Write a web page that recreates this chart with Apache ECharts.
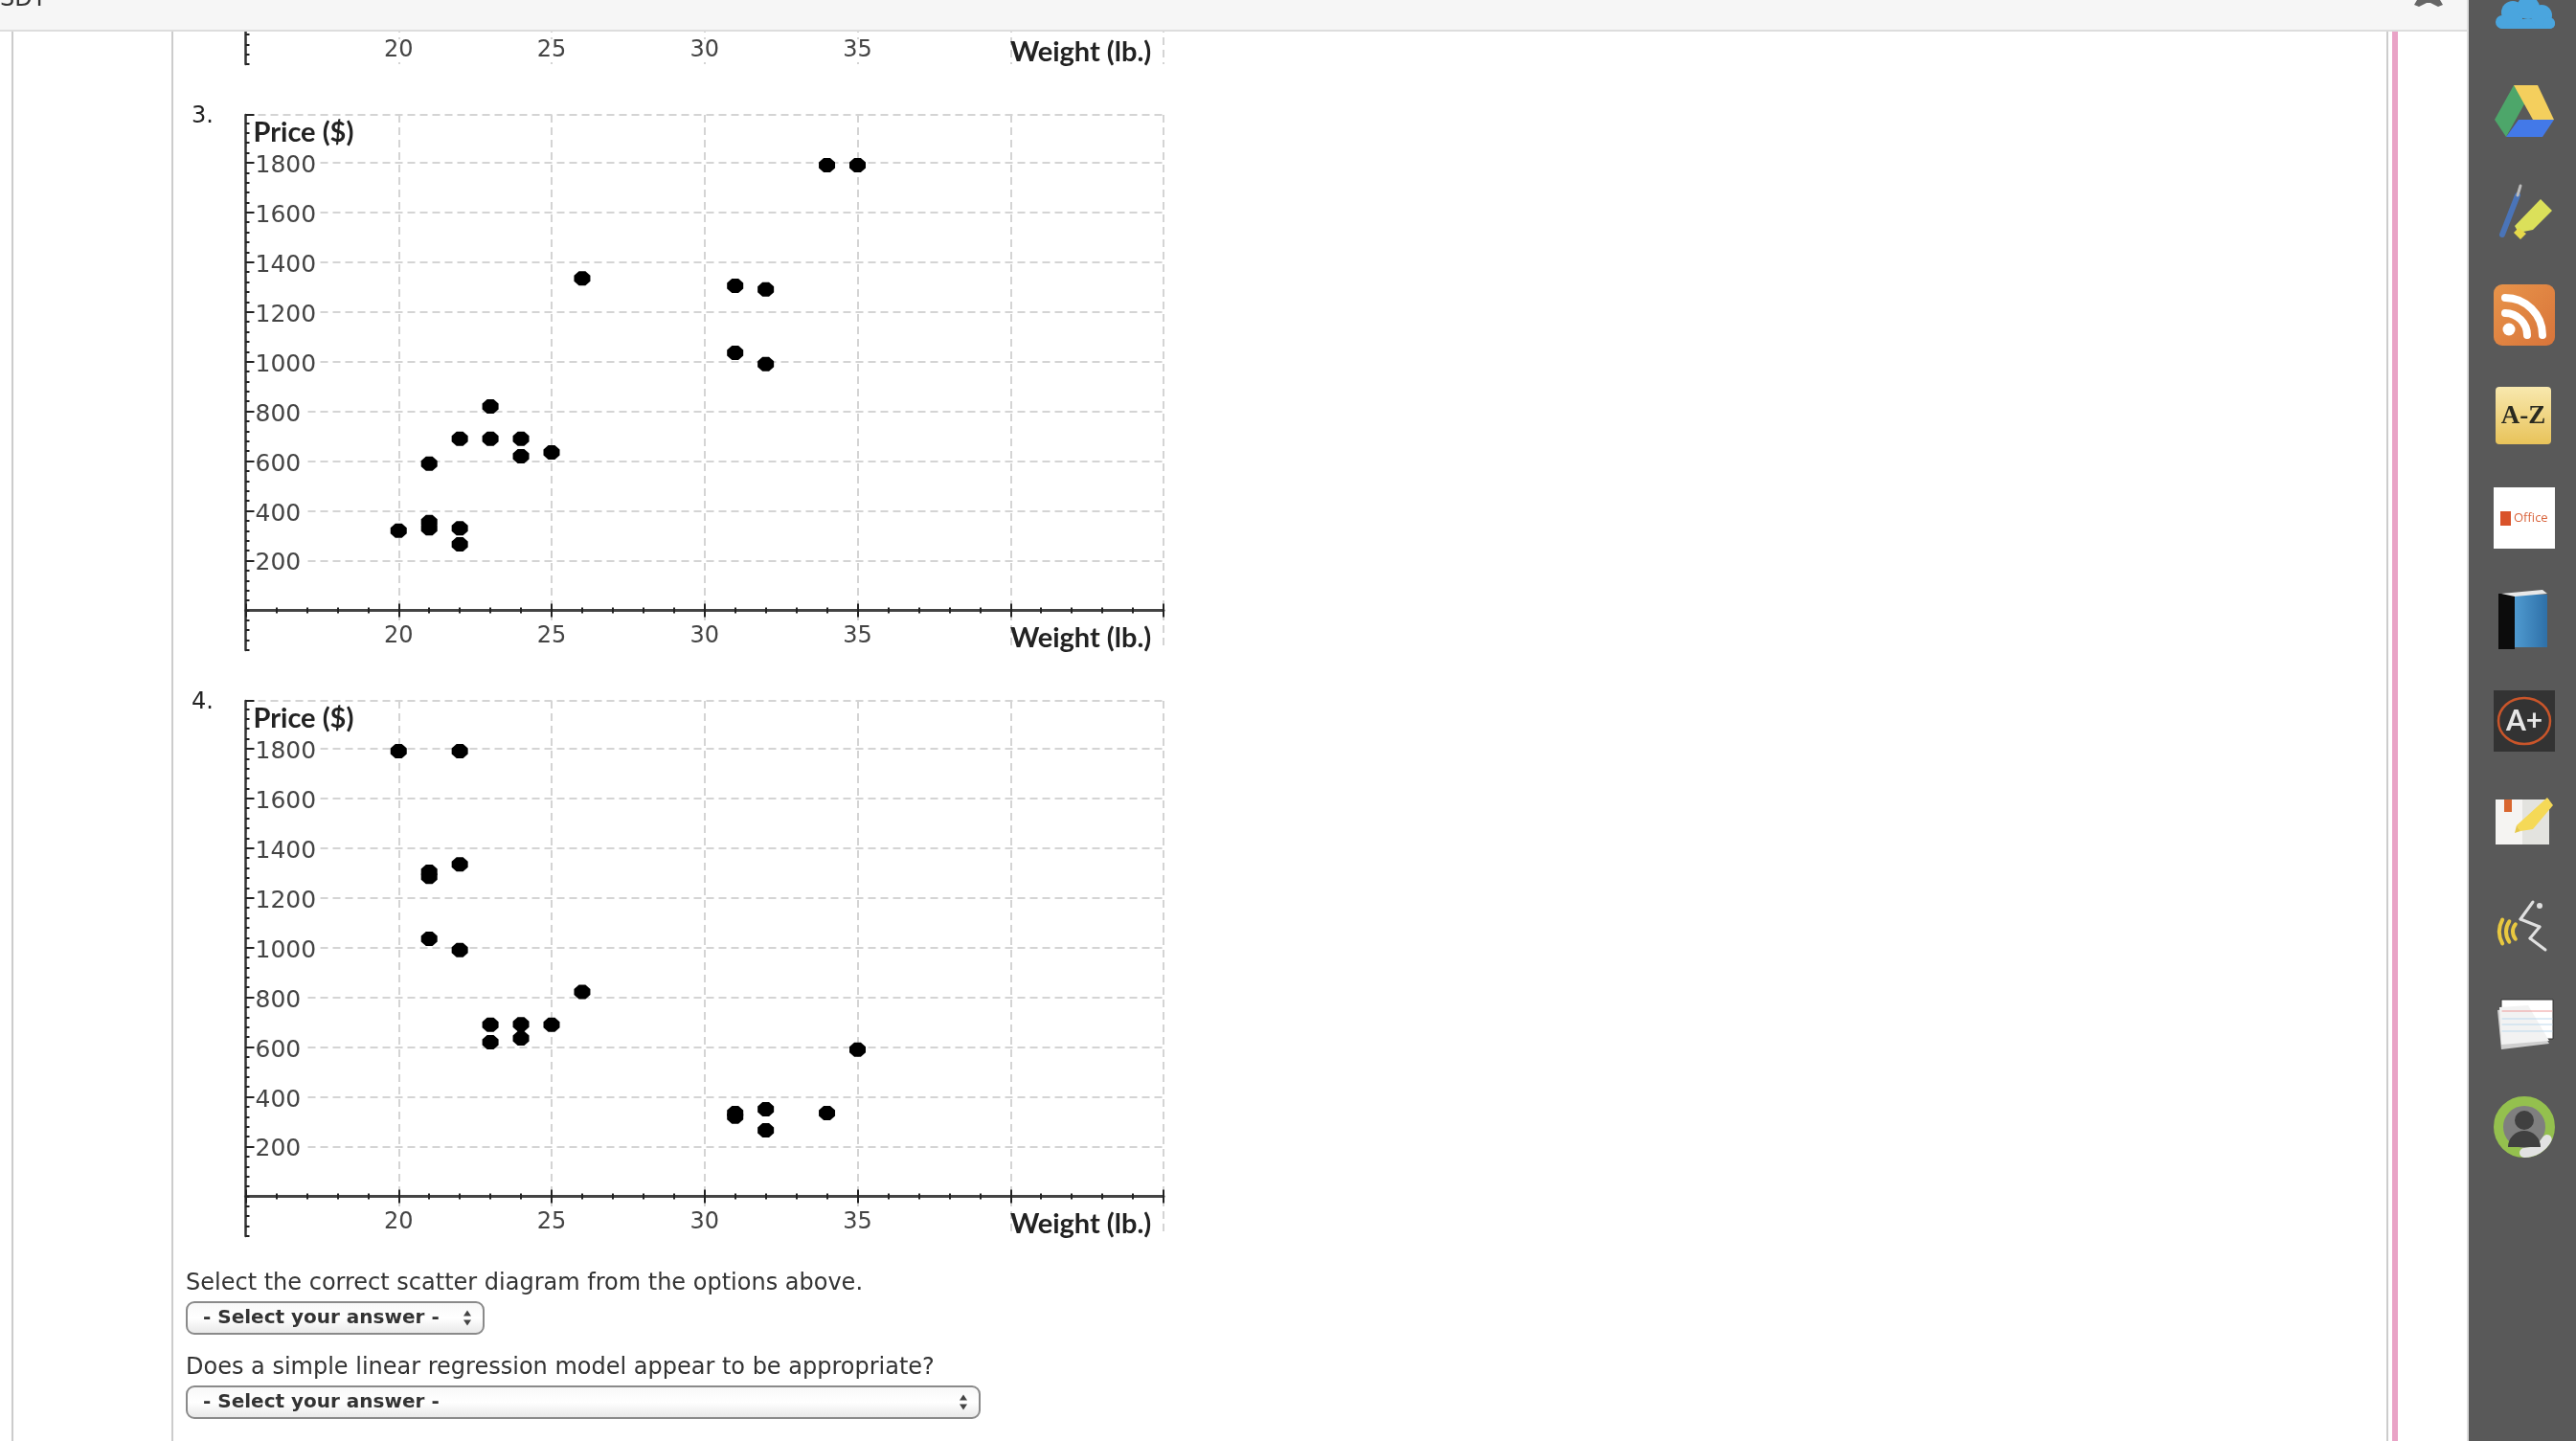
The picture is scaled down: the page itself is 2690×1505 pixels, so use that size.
<!DOCTYPE html>
<html>
<head>
<meta charset="utf-8">
<style>html,body{margin:0;padding:0;background:#fff}#c{width:2690px;height:1505px}</style>
<script src="https://cdn.jsdelivr.net/npm/echarts@6/dist/echarts.min.js"></script>
</head>
<body>
<div id="c"></div>
<script>
// ---- data ----
const xLabels = [20, 25, 30, 35];
const yLabels = [200, 400, 600, 800, 1000, 1200, 1400, 1600, 1800];
const yBottom = -160;
const xName = 'Weight (lb.)';
const yName = 'Price ($)';
const scatter3 = [[20,320],[21,355],[21,330],[21,590],[22,265],[22,330],[22,690],[23,690],[23,820],[24,620],[24,690],[25,635],[26,1335],[31,1035],[31,1305],[32,990],[32,1290],[34,1790],[35,1790]];
const scatter4 = [[20,1790],[21,1035],[21,1285],[21,1305],[22,990],[22,1335],[22,1790],[23,620],[23,690],[24,635],[24,692],[25,690],[26,822],[31,320],[31,335],[32,265],[32,350],[34,335],[35,590]];
const question1 = 'Select the correct scatter diagram from the options above.';
const question2 = 'Does a simple linear regression model appear to be appropriate?';
const selectText = '- Select your answer -';

// ---- layout: the tail of the previous chart, then charts 3 and 4 ----
const plotLeft = 256.5, plotWidth = 958.5;
const panels = [
  {top: 0, height: 67.1, yTop: 98, name: '', data: []},
  {top: 120, height: 559, yTop: 1992, name: yName, data: scatter3},
  {top: 732, height: 559, yTop: 1992, name: yName, data: scatter4}
];
const gridInk = '#d4d4d4';
const chartFont = 'Lato';
const dot = 'path://M3,0H7L10,3V7L7,10H3L0,7V3Z';

const grid = [], xAxis = [], yAxis = [], series = [];
panels.forEach((p, g) => {
  grid.push({left: plotLeft, top: p.top, width: plotWidth, height: p.height, containLabel: false});
  const bx = xAxis.length, by = yAxis.length;
  xAxis.push({
    type: 'value', gridIndex: g, position: 'bottom', min: 15, max: 45, interval: 5,
    name: xName, nameLocation: 'end', nameGap: -160,
    nameTextStyle: {color: '#222', fontFamily: chartFont, fontWeight: 'bold', fontSize: 29, align: 'left', verticalAlign: 'top', padding: [15, 0, 0, 0]},
    axisLine: {onZero: true, lineStyle: {color: '#444', width: 3}},
    axisTick: {show: true, length: 7, lineStyle: {color: '#222', width: 2}},
    minorTick: {show: true, splitNumber: 5, length: 3, lineStyle: {color: '#222', width: 2}},
    splitLine: {show: true, lineStyle: {color: gridInk, width: 2, type: [8, 5]}},
    minorSplitLine: {show: false},
    axisLabel: {show: true, margin: -26, color: '#444', fontFamily: 'DejaVu Sans', fontSize: 24,
      backgroundColor: '#fff', padding: [0, 1],
      formatter: v => xLabels.includes(v) ? String(v) : ''}
  });
  xAxis.push({
    type: 'value', gridIndex: g, position: 'bottom', min: 15, max: 45, interval: 5,
    axisLine: {show: false, onZero: true},
    axisTick: {show: true, inside: true, length: 7, lineStyle: {color: '#222', width: 2}},
    minorTick: {show: true, splitNumber: 5, length: 3, lineStyle: {color: '#222', width: 2}},
    splitLine: {show: false}, axisLabel: {show: false}
  });
  yAxis.push({
    type: 'value', gridIndex: g, position: 'left', min: yBottom, max: p.yTop, interval: 40,
    name: p.name, nameLocation: 'end', nameGap: -19,
    nameTextStyle: {color: '#222', fontFamily: chartFont, fontWeight: 'bold', fontSize: 29, align: 'left', verticalAlign: 'middle', padding: [0, 0, 0, 8]},
    axisLine: {show: true, onZero: false, lineStyle: {color: '#333', width: 2.5}},
    axisTick: {show: true, inside: true, length: 4, lineStyle: {color: '#222', width: 2}},
    splitLine: {show: false}, axisLabel: {show: false}
  });
  const majors = yLabels.concat([p.yTop]).filter(v => v <= p.yTop);
  yAxis.push({
    type: 'value', gridIndex: g, position: 'left', min: yBottom, max: p.yTop,
    axisLine: {show: false, onZero: false},
    axisTick: {show: true, inside: true, length: 9, customValues: majors, lineStyle: {color: '#222', width: 2}},
    splitLine: {show: true, lineStyle: {color: gridInk, width: 2, type: [8, 5]}},
    axisLabel: {show: true, inside: true, margin: 10, customValues: yLabels.filter(v => v < p.yTop),
      formatter: v => '{n|' + v + '}',
      rich: {n: {color: '#444', fontFamily: 'DejaVu Sans', fontSize: 25, backgroundColor: '#fff', padding: [7, 4, 0, 0]}}}
  });
  series.push({
    type: 'scatter', xAxisIndex: bx, yAxisIndex: by, data: p.data,
    symbol: dot, symbolSize: [17, 15], itemStyle: {color: '#000', opacity: 1}, silent: true, z: 5
  });
});

// ---- page furniture, drawn by the library's graphic layer ----
const G = echarts.graphic;
const els = [];
const rect = (x, y, w, h, fill, extra) => els.push(Object.assign({type: 'rect', z: 100, silent: true, shape: {x, y, width: w, height: h, r: (extra && extra.r) || 0}, style: Object.assign({fill}, extra && extra.style)}));
const poly = (points, fill) => els.push({type: 'polygon', z: 101, silent: true, shape: {points}, style: {fill}});
const circ = (cx, cy, r, fill, stroke, lw) => els.push({type: 'circle', z: 101, silent: true, shape: {cx, cy, r}, style: {fill: fill || 'none', stroke: stroke || 'none', lineWidth: lw || 0}});
const arc = (cx, cy, r, a, b, stroke, lw) => els.push({type: 'arc', z: 101, silent: true, shape: {cx, cy, r, startAngle: a, endAngle: b, clockwise: true}, style: {stroke, lineWidth: lw, fill: 'none', lineCap: 'round'}});
const line = (x1, y1, x2, y2, stroke, lw) => els.push({type: 'line', z: 101, silent: true, shape: {x1, y1, x2, y2}, style: {stroke, lineWidth: lw, lineCap: 'round'}});
const ell = (cx, cy, rx, ry, stroke, lw) => els.push({type: 'ellipse', z: 101, silent: true, shape: {cx, cy, rx, ry}, style: {fill: 'none', stroke, lineWidth: lw}});
const txt = (text, x, y, font, fill, align) => els.push({type: 'text', z: 102, silent: true, style: {text, x, y, font, fill, align: align || 'left', verticalAlign: 'middle'}});
const grad = (stops, x2, y2) => new G.LinearGradient(0, 0, x2 === undefined ? 0 : x2, y2 === undefined ? 1 : y2, stops.map((c, i) => ({offset: i / (stops.length - 1), color: c})));

// page rules
rect(12, 33, 2, 1472, '#cccccc');
rect(179, 33, 2, 1472, '#cccccc');
rect(2492, 33, 2, 1472, '#cccccc');
rect(2498, 33, 6, 1472, '#e9a3c6');
// top bar
rect(0, 0, 2576, 31, '#f6f6f6');
rect(0, 31, 2576, 2, '#dddddd');
txt('SDT', 0, 0, '24px "DejaVu Sans"', '#333');
poly([[2524,0],[2548,0],[2551,5],[2546,7],[2538,3],[2534,3],[2526,7],[2521,5]], '#666');
// side bar
rect(2576, 0, 2, 1505, '#dddddd');
rect(2578, 0, 112, 1505, '#595959');
// one drive
[[2613,23,7],[2624,13,12],[2640,8,12],[2654,16,11],[2662,24,6]].forEach(c => circ(c[0], c[1], c[2], '#4aa5de'));
rect(2608, 20, 60, 10, '#4aa5de', {r: 5});
// drive
poly([[2625,89],[2605,125],[2617,143],[2637,107]], '#4da66a');
poly([[2625,89],[2650,89],[2667,125],[2645,125]], '#f4cf5d');
poly([[2617,143],[2655,143],[2667,125],[2630,125]], '#4379e8');
// pen + highlighter
line(2613, 245, 2629, 204, '#4a74b8', 6);
line(2629, 204, 2632, 194, '#bbbbbb', 3);
poly([[2653,208],[2665,220],[2645,240],[2630,243],[2626,236]], '#dbe05a');
poly([[2625,243],[2632,250],[2638,244],[2630,238]], '#e6d94a');
// rss
rect(2604, 297, 64, 64, grad(['#e8944a', '#d8743a'], 1, 1), {r: 9});
circ(2620, 344, 6.5, '#fff');
arc(2616, 350, 23, -Math.PI / 2, 0, '#fff', 8);
arc(2616, 350, 39, -Math.PI / 2, 0, '#fff', 8);
// a-z
rect(2606, 404, 58, 60, grad(['#f8e8ae', '#e8c35a']), {r: 4});
txt('A-Z', 2635, 435, 'bold 27px "Liberation Serif"', '#2a2a20', 'center');
// office
rect(2604, 509, 64, 64, '#ffffff');
rect(2611, 534, 11, 15, '#d9532a');
txt('Office', 2625, 541, '13px "Open Sans"', '#d9643c');
// book
rect(2609, 620, 17, 58, '#0c0c0c');
poly([[2612,620],[2655,616],[2660,620],[2626,623]], '#e8e8e8');
rect(2626, 621, 34, 55, grad(['#4f9ad0', '#2e70a8'], 1, 0));
// a+
rect(2604, 721, 64, 64, '#333333');
ell(2636, 753, 27, 24, '#c9552a', 2.5);
txt('A+', 2636, 753, 'bold 30px "Lato"', '#e6e6e6', 'center');
// notebook + highlighter
rect(2606, 835, 28, 47, '#f5f4f2');
rect(2634, 835, 28, 47, '#e3e3df');
rect(2615, 835, 8, 13, '#d9662f');
poly([[2660,833],[2666,841],[2645,866],[2632,868],[2628,862]], '#f5d957');
poly([[2628,862],[2632,868],[2626,870]], '#e6c84a');
// speech
line(2645, 942, 2632, 960, '#e0e0e0', 3);
line(2632, 960, 2652, 968, '#e0e0e0', 3);
line(2652, 968, 2642, 980, '#e0e0e0', 3);
line(2642, 980, 2658, 992, '#e0e0e0', 3);
circ(2652, 946, 3, '#e0e0e0');
arc(2636, 973, 26, Math.PI - 0.5, Math.PI + 0.5, '#e8c840', 4);
arc(2636, 973, 19, Math.PI - 0.6, Math.PI + 0.6, '#e8c840', 4);
arc(2636, 973, 12, Math.PI - 0.7, Math.PI + 0.7, '#e8c840', 4);
// index cards
poly([[2608,1055],[2612,1096],[2662,1090],[2640,1052]], '#cfcfcf');
poly([[2610,1052],[2612,1091],[2662,1087],[2640,1050]], '#f2f2f2');
rect(2612, 1044, 54, 41, '#ffffff', {style: {stroke: '#333', lineWidth: 1}});
line(2613, 1056, 2665, 1056, '#ee9a9a', 1);
[1064, 1070, 1077].forEach(y => line(2613, y, 2665, y, '#bcd9ee', 1));
// avatar
circ(2636, 1177, 27, '#7f7f7f', '#94c04e', 10);
arc(2636, 1177, 27, 0.5, Math.PI / 2, '#e2e2e2', 10);
circ(2636, 1170, 10, '#404040');
els.push({type: 'sector', z: 101, silent: true, shape: {cx: 2636, cy: 1198, r: 17, r0: 0, startAngle: Math.PI, endAngle: 2 * Math.PI}, style: {fill: '#404040'}});

// chart numbers and questions
txt('3.', 200, 122, '24px "DejaVu Sans"', '#222');
txt('4.', 200, 734, '24px "DejaVu Sans"', '#222');
txt(question1, 194, 1340.5, '24px "DejaVu Sans"', '#333');
txt(question2, 194, 1428.5, '24px "DejaVu Sans"', '#333');
const selectBox = (x, y, w, h) => {
  rect(x, y, w, h, grad(['#f7f7f7', '#ffffff', '#e6e6e6']), {r: 8, style: {stroke: '#8a8a8a', lineWidth: 2}});
  txt(selectText, x + 17, y + h / 2, 'bold 20px "DejaVu Sans"', '#333');
  const cx = x + w - 17, cy = y + h / 2;
  poly([[cx - 4, cy - 2], [cx + 4, cy - 2], [cx, cy - 8]], '#444');
  poly([[cx - 4, cy + 2], [cx + 4, cy + 2], [cx, cy + 8]], '#444');
};
selectBox(195, 1360, 310, 33);
selectBox(195, 1448, 828, 33);

const chart = echarts.init(document.getElementById('c'), null, {renderer: 'canvas'});
chart.setOption({
  animation: false, backgroundColor: '#ffffff', tooltip: {show: false},
  grid, xAxis, yAxis, series, graphic: {elements: els}
});
</script>
</body>
</html>
